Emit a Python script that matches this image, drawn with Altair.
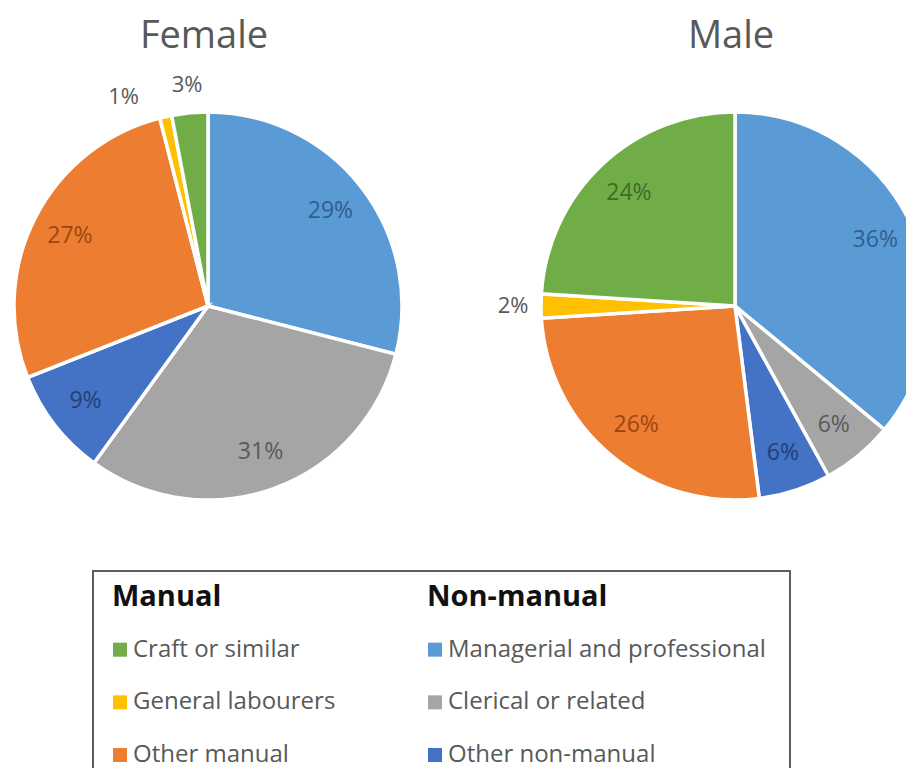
import math
import altair as alt
import pandas as pd

# ---------------- data ----------------
CATEGORIES = ["Managerial and professional", "Clerical or related", "Other non-manual",
              "Other manual", "General labourers", "Craft or similar"]
GROUPS = ["Non-manual", "Non-manual", "Non-manual", "Manual", "Manual", "Manual"]
FEMALE = [29, 31, 9, 27, 1, 3]
MALE = [36, 6, 6, 26, 2, 24]
PANELS = ["Female", "Male"]
LEGEND_HEADERS = ["Manual", "Non-manual"]
LEGEND_MANUAL = ["Craft or similar", "General labourers", "Other manual"]
LEGEND_NON_MANUAL = ["Managerial and professional", "Clerical or related", "Other non-manual"]

# ---------------- style ----------------
SLICE_COLORS = ["#5B9BD5", "#A5A5A5", "#4472C4", "#ED7D31", "#FFC000", "#70AD47"]
LABEL_COLORS = ["#2D5F93", "#5A5A5A", "#233F78", "#9C4713", "#7F6000", "#3F6B27"]
FONT = "Open Sans"
GREY = "#595959"
W, H = 898, 760
CENTERS = {"Female": 200, "Male": 727}
CY = 298
R = 194

rows = []
for panel, values in zip(PANELS, [FEMALE, MALE]):
    for i, (cat, val) in enumerate(zip(CATEGORIES, values)):
        rows.append({"panel": panel, "category": cat, "value": val, "order": i})
pie_df = pd.DataFrame(rows)

leg_rows = []
for col, (grp, items) in enumerate(zip(LEGEND_HEADERS, [LEGEND_MANUAL, LEGEND_NON_MANUAL])):
    leg_rows.append({"group": grp, "label": grp, "col": col, "row": 0, "kind": "header"})
    for r, cat in enumerate(items):
        leg_rows.append({"group": grp, "label": cat, "col": col, "row": r + 1, "kind": "item"})
leg_df = pd.DataFrame(leg_rows)

THETA = alt.Scale(domain=[0, 100], range=[0, 2 * math.pi])
SLICE_SCALE = alt.Scale(domain=CATEGORIES, range=SLICE_COLORS)
LABEL_SCALE = alt.Scale(domain=CATEGORIES, range=LABEL_COLORS)

layers = []

# legend box
layers.append(
    alt.Chart(pd.DataFrame({"box": [0]})).mark_rect(
        fillOpacity=0, stroke="#5E5E5E", strokeWidth=2
    ).encode(x=alt.value(85), x2=alt.value(782), y=alt.value(563), y2=alt.value(820))
)

for panel in PANELS:
    cx = CENTERS[panel]
    base = (
        alt.Chart(pie_df)
        .transform_filter(alt.datum.panel == panel)
        .transform_window(cum="sum(value)", sort=[alt.SortField("order")], frame=[None, 0])
        .transform_calculate(
            start="datum.cum - datum.value",
            mid="datum.cum - datum.value / 2",
            label="datum.value + '%'",
        )
    )
    arcs = base.mark_arc(outerRadius=R, stroke="white", strokeWidth=3.5).encode(
        theta=alt.Theta("start:Q", scale=THETA, stack=False),
        theta2="cum:Q",
        color=alt.Color("category:N", scale=SLICE_SCALE, legend=None),
        order=alt.Order("order:Q"),
        x=alt.value(cx), y=alt.value(CY),
    )
    inner = base.transform_filter("datum.value >= 5").mark_text(
        radius=155, font=FONT, fontSize=23
    ).encode(
        theta=alt.Theta("mid:Q", scale=THETA, stack=False),
        text="label:N",
        color=alt.Color("category:N", scale=LABEL_SCALE, legend=None),
        x=alt.value(cx), y=alt.value(CY),
    )
    outer = base.transform_filter("datum.value < 5 && datum.value >= 2").mark_text(
        radius=222, font=FONT, fontSize=22, color=GREY
    ).encode(
        theta=alt.Theta("mid:Q", scale=THETA, stack=False),
        text="label:N",
        x=alt.value(cx), y=alt.value(CY),
    )
    outer_small = base.transform_filter("datum.value < 2").mark_text(
        radius=222, font=FONT, fontSize=22, color=GREY, dx=-36, dy=8
    ).encode(
        theta=alt.Theta("mid:Q", scale=THETA, stack=False),
        text="label:N",
        x=alt.value(cx), y=alt.value(CY),
    )
    title = alt.Chart(pd.DataFrame({"panel": [panel]})).mark_text(
        font=FONT, fontSize=38, color=GREY, baseline="alphabetic"
    ).encode(text="panel:N", x=alt.value(cx - 4), y=alt.value(40))
    layers += [arcs, inner, outer, outer_small, title]

# legend contents
LX = alt.X("col:Q", scale=alt.Scale(domain=[0, 1], range=[112, 427]), axis=None)
LY = alt.Y("row:Q", scale=alt.Scale(domain=[0, 3], range=[589, 747]), axis=None)
leg = alt.Chart(leg_df)
headers = leg.transform_filter("datum.kind == 'header'").mark_text(
    font=FONT, fontSize=29, fontWeight="bold", color="#111111", align="left", dx=-8
).encode(x=LX, y=LY, text="label:N")
squares = leg.transform_filter("datum.kind == 'item'").mark_square(
    size=196, opacity=1
).encode(x=LX, y=LY, color=alt.Color("label:N", scale=SLICE_SCALE, legend=None))
labels = leg.transform_filter("datum.kind == 'item'").mark_text(
    font=FONT, fontSize=24, color=GREY, align="left", dx=13
).encode(x=LX, y=LY, text="label:N")
layers += [headers, squares, labels]

chart = (
    alt.layer(*layers)
    .properties(width=W, height=H, autosize=alt.AutoSizeParams(type="none"), padding=0)
    .resolve_scale(color="independent")
    .configure_view(stroke=None)
)

chart.save("out.html", embed_options={"renderer": "svg", "actions": False})
